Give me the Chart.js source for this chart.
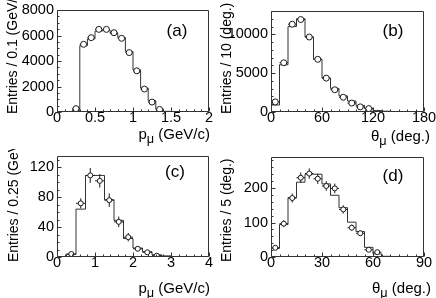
<!DOCTYPE html>
<html><head><meta charset="utf-8">
<script src="https://cdn.jsdelivr.net/npm/chart.js@4"></script>
<style>
html,body{margin:0;padding:0;background:#fff;}
#fig{position:relative;width:436px;height:298px;overflow:hidden;font-family:"Liberation Sans",Arial,sans-serif;color:#000;}
.pad{position:absolute;width:218px;height:149px;overflow:hidden;}
.pad canvas{position:absolute;left:0;top:0;}
.xt{position:absolute;font-size:15px;line-height:15px;white-space:nowrap;}
.yt{position:absolute;font-size:14px;line-height:15px;white-space:nowrap;transform-origin:0 0;transform:rotate(-90deg);}
.lab{position:absolute;font-size:17px;line-height:17px;white-space:nowrap;transform:translate(-50%,-50%);}
.sub{position:relative;top:0.3em;font-size:0.85em;}
</style></head>
<body>
<div id="fig">
  <div class="pad" style="left:0;top:0">
    <canvas id="ca" width="218" height="149"></canvas>
    <div class="yt" style="left:5px;top:114px">Entries / 0.1 (GeV/c)</div>
    <div class="xt" style="right:8px;top:126px">p<span class="sub">μ</span> (GeV/c)</div>
    <div class="lab" style="left:177px;top:30px">(a)</div>
  </div>
  <div class="pad" style="left:218px;top:0">
    <canvas id="cb" width="218" height="149"></canvas>
    <div class="yt" style="left:1px;top:114px">Entries / 10 (deg.)</div>
    <div class="xt" style="right:6px;top:128px">θ<span class="sub">μ</span> (deg.)</div>
    <div class="lab" style="left:175px;top:30px">(b)</div>
  </div>
  <div class="pad" style="left:0;top:149px">
    <canvas id="cc" width="218" height="149"></canvas>
    <div class="yt" style="left:6px;top:113px">Entries / 0.25 (GeV/c)</div>
    <div class="xt" style="right:8px;top:131px">p<span class="sub">μ</span> (GeV/c)</div>
    <div class="lab" style="left:175px;top:22px">(c)</div>
  </div>
  <div class="pad" style="left:218px;top:149px">
    <canvas id="cd" width="218" height="149"></canvas>
    <div class="yt" style="left:1px;top:113px">Entries / 5 (deg.)</div>
    <div class="xt" style="right:5px;top:131px">θ<span class="sub">μ</span> (deg.)</div>
    <div class="lab" style="left:175px;top:26px">(d)</div>
  </div>
</div>
<script>
// ---------- data ----------
// (a) muon momentum, 0.1 GeV/c bins
const aHistX = [0.05,0.15,0.25,0.35,0.45,0.55,0.65,0.75,0.85,0.95,1.05,1.15,1.25,1.35,1.45,1.55,1.65,1.75,1.85,1.95];
const aHistY = [0,0,100,5200,5730,6350,6400,6170,5830,4740,3300,1875,885,235,50,0,0,0,0,0];
const aDataX = [0.25,0.35,0.45,0.55,0.65,0.75,0.85,0.95,1.05,1.15,1.25,1.35];
const aDataY = [260,5310,5830,6480,6480,6220,5780,4660,3230,1800,780,200];
const aDataErr = [16,73,76,80,80,79,76,68,57,42,28,14];
const aXTicks = [0,0.5,1,1.5,2];
const aYTicks = [0,2000,4000,6000,8000];

// (b) muon angle, 10 deg bins
const bHistX = [5,15,25,35,45,55,65,75,85,95,105,115,125,135,145,155,165,175];
const bHistY = [900,6080,11000,12000,9650,6780,4360,3040,2070,1410,840,480,200,100,60,30,0,0];
const bDataX = [5,15,25,35,45,55,65,75,85,95,105,115];
const bDataY = [1300,6340,11300,11900,9650,6780,4360,2860,1900,1150,660,440];
const bDataErr = [36,80,106,109,98,82,66,53,44,34,26,21];
const bXTicks = [0,60,120,180];
const bYTicks = [0,5000,10000];

// (c) muon momentum, 0.25 GeV/c bins
const cHistX = [0.125,0.375,0.625,0.875,1.125,1.375,1.625,1.875,2.125,2.375,2.625,2.875,3.125,3.375,3.625,3.875];
const cHistY = [0,3.6,64,109,109,76.5,49,24.7,12,7,3,1.5,0.5,0,0,0];
const cDataX = [0.375,0.625,0.875,1.125,1.375,1.625,1.875,2.125,2.375,2.625];
const cDataY = [4,71.7,109,101.8,76,47,26.5,11,6.3,1.8];
const cDataErr = [2,6.7,10,9,9,7,5.6,3.3,2.5,1.3];
const cXTicks = [0,1,2,3,4];
const cYTicks = [0,40,80,120];

// (d) muon angle, 5 deg bins
const dHistX = [2.5,7.5,12.5,17.5,22.5,27.5,32.5,37.5,42.5,47.5,52.5,57.5,62.5,67.5,72.5,77.5,82.5,87.5];
const dHistY = [25,94,172,217,240,240,212,179,143,101,74,28,9,2,0,0,0,0];
const dDataX = [2.5,7.5,12.5,17.5,22.5,27.5,32.5,37.5,42.5,47.5,52.5,57.5,62.5];
const dDataY = [26.8,96.6,171,230,242,227,206,199,138,85,69,21,14];
const dDataErr = [5,10,13,15,15,15,14,14,12,9,8,5,4];
const dXTicks = [0,30,60,90];
const dYTicks = [0,100,200];

// ---------- drawing ----------
const FONT = '"Liberation Sans", Arial, sans-serif';
const INK = '#1a1a1a';

function makeChart(id, cfg){
  const w = cfg.histX[1] - cfg.histX[0];
  const hist = cfg.histX.map((c,i)=>({x:c-w/2, y:cfg.histY[i]}));
  hist.push({x:cfg.histX[cfg.histX.length-1]+w/2, y:cfg.histY[cfg.histY.length-1]});
  const pts = cfg.dataX.map((x,i)=>({x:x, y:cfg.dataY[i]}));

  const fitX = s => { s.height = cfg.area.bottom;
    s.paddingLeft = s.paddingRight = s.paddingTop = s.paddingBottom = 0; };
  const fitY = s => { s.width = cfg.area.left;
    s.paddingLeft = s.paddingRight = s.paddingTop = s.paddingBottom = 0; };

  const deco = {
    id:'deco'+id,
    afterDatasetDraw(chart, args){
      if (args.index !== 1) return;
      const xs = chart.scales.x, ys = chart.scales.y, ctx = chart.ctx;
      ctx.save(); ctx.strokeStyle = INK; ctx.lineWidth = 1; ctx.beginPath();
      cfg.dataX.forEach((x,i)=>{
        const y = cfg.dataY[i], e = cfg.dataErr[i];
        const px = xs.getPixelForValue(x), py = ys.getPixelForValue(y);
        ctx.moveTo(xs.getPixelForValue(x-w/2), py); ctx.lineTo(xs.getPixelForValue(x+w/2), py);
        ctx.moveTo(px, ys.getPixelForValue(y-e)); ctx.lineTo(px, ys.getPixelForValue(y+e));
      });
      ctx.stroke(); ctx.restore();
    },
    afterDraw(chart){
      const {left,right,top,bottom} = chart.chartArea;
      const xs = chart.scales.x, ys = chart.scales.y, ctx = chart.ctx;
      const L = Math.round(left)+0.5, R = Math.round(right)-0.5, T = Math.round(top)+0.5, B = Math.round(bottom)-0.5;
      ctx.save(); ctx.strokeStyle = '#333'; ctx.lineWidth = 1; ctx.beginPath();
      ctx.rect(L, T, R-L, B-T);
      const x0 = cfg.xRange[0], x1 = cfg.xRange[1];
      const nx = Math.round((x1-x0)/cfg.xMinor);
      for (let k=0;k<=nx;k++){
        const v = x0 + k*cfg.xMinor;
        const major = Math.abs(v/cfg.xMajor - Math.round(v/cfg.xMajor)) < 1e-6;
        const px = Math.round(xs.getPixelForValue(v)) + 0.5;
        ctx.moveTo(px, B); ctx.lineTo(px, B - (major?4:2));
      }
      const y0 = cfg.yRange[0], y1 = cfg.yRange[1];
      const ny = Math.floor((y1-y0)/cfg.yMinor + 1e-6);
      for (let k=0;k<=ny;k++){
        const v = y0 + k*cfg.yMinor;
        const major = Math.abs(v/cfg.yMajor - Math.round(v/cfg.yMajor)) < 1e-6;
        const py = Math.round(ys.getPixelForValue(v)) + 0.5;
        ctx.moveTo(L, py); ctx.lineTo(L + (major?4:2), py);
      }
      ctx.stroke(); ctx.restore();
    }
  };

  const tickFont = {family: FONT, size: 14.5, lineHeight: 1};
  return new Chart(document.getElementById(id), {
    type:'scatter',
    data:{datasets:[
      {data:pts, pointStyle:'circle', pointRadius:cfg.r, pointHoverRadius:cfg.r,
       pointBorderWidth:1, pointBorderColor:INK, pointBackgroundColor:'#fff', showLine:false},
      {type:'line', data:hist, stepped:'before', borderColor:'#333', borderWidth:1,
       pointRadius:0, fill:false, tension:0}
    ]},
    options:{
      responsive:false, animation:false, events:[], devicePixelRatio:1,
      layout:{padding:{left:0, bottom:0, top:cfg.area.top, right:cfg.area.right}},
      plugins:{legend:{display:false}, tooltip:{enabled:false}},
      scales:{
        x:{type:'linear', min:cfg.xRange[0], max:cfg.xRange[1],
           grid:{display:false, drawTicks:false}, border:{display:false},
           afterFit:fitX,
           afterBuildTicks: s => { s.ticks = cfg.xTicks.map(v=>({value:v})); },
           ticks:{autoSkip:false, maxRotation:0, minRotation:0, padding:-1, color:'#000', font:tickFont,
                  callback: v => String(v)}},
        y:{type:'linear', min:cfg.yRange[0], max:cfg.yRange[1],
           grid:{display:false, drawTicks:false}, border:{display:false},
           afterFit:fitY,
           afterBuildTicks: s => { s.ticks = cfg.yTicks.map(v=>({value:v})); },
           ticks:{autoSkip:false, padding:3, color:'#000', font:tickFont,
                  callback: v => String(v)}}
      }
    },
    plugins:[deco]
  });
}

makeChart('ca', {histX:aHistX, histY:aHistY, dataX:aDataX, dataY:aDataY, dataErr:aDataErr,
  xTicks:aXTicks, yTicks:aYTicks, xRange:[0,2], yRange:[0,8000], xMajor:0.5, xMinor:0.1, yMajor:2000, yMinor:500,
  area:{left:57, right:9, top:10, bottom:37}, r:3});
makeChart('cb', {histX:bHistX, histY:bHistY, dataX:bDataX, dataY:bDataY, dataErr:bDataErr,
  xTicks:bXTicks, yTicks:bYTicks, xRange:[0,180], yRange:[0,13000], xMajor:60, xMinor:10, yMajor:5000, yMinor:1000,
  area:{left:53, right:12, top:11, bottom:37}, r:3});
makeChart('cc', {histX:cHistX, histY:cHistY, dataX:cDataX, dataY:cDataY, dataErr:cDataErr,
  xTicks:cXTicks, yTicks:cYTicks, xRange:[0,4], yRange:[0,135], xMajor:1, xMinor:0.2, yMajor:40, yMinor:10,
  area:{left:57, right:9, top:7, bottom:41}, r:2.5});
makeChart('cd', {histX:dHistX, histY:dHistY, dataX:dDataX, dataY:dDataY, dataErr:dDataErr,
  xTicks:dXTicks, yTicks:dYTicks, xRange:[0,90], yRange:[0,290], xMajor:30, xMinor:5, yMajor:100, yMinor:20,
  area:{left:53, right:12, top:8, bottom:41}, r:2.5});
</script>
</body></html>
